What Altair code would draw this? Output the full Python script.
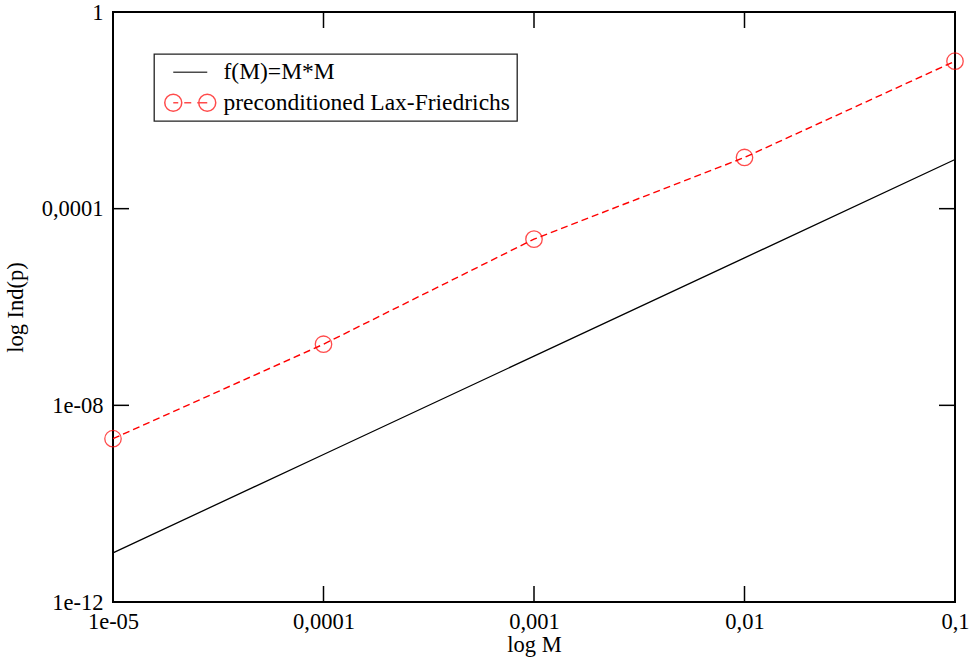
import altair as alt
import pandas as pd

# ---- data ----
M_values = [1e-5, 1e-4, 1e-3, 1e-2, 1e-1]
f_values = [1e-11, 1e-9, 1e-7, 1e-5, 1e-3]
lf_values = [2.1e-9, 1.75e-7, 2.4e-5, 1.1e-3, 0.1]
series_names = ["f(M)=M*M", "preconditioned Lax-Friedrichs"]
series_colors = ["#000000", "#ff0000"]

x_ticks = [1e-5, 1e-4, 1e-3, 1e-2, 1e-1]
x_tick_labels = ["1e-05", "0,0001", "0,001", "0,01", "0,1"]
y_ticks = [1e-12, 1e-8, 1e-4, 1.0]
y_tick_labels = ["1e-12", "1e-08", "0,0001", "1"]

W, H = 842, 590
FONT = "Liberation Serif"

rows = []
for m, v in zip(M_values, f_values):
    rows.append({"M": m, "value": v, "series": series_names[0]})
for m, v in zip(M_values, lf_values):
    rows.append({"M": m, "value": v, "series": series_names[1]})
df = pd.DataFrame(rows)
xt = pd.DataFrame({"v": x_ticks})
yt = pd.DataFrame({"v": y_ticks})

xscale = alt.Scale(type="log", domain=[1e-5, 0.1], nice=False)
yscale = alt.Scale(type="log", domain=[1e-12, 1], nice=False)
cscale = alt.Scale(domain=series_names, range=series_colors)


def label_expr(vals, labels):
    # nested conditional: pick label of nearest tick (log space)
    expr = "''"
    for v, lab in reversed(list(zip(vals, labels))):
        expr = f"(abs(log(datum.value) - log({v!r})) < 0.5 ? '{lab}' : {expr})"
    return expr


def circle_path(cx, r):
    k = 0.5523 * r
    f = lambda a: f"{a:.3f}"
    return (f"M{f(cx + r)},0"
            f"C{f(cx + r)},{f(k)} {f(cx + k)},{f(r)} {f(cx)},{f(r)}"
            f"C{f(cx - k)},{f(r)} {f(cx - r)},{f(k)} {f(cx - r)},0"
            f"C{f(cx - r)},{f(-k)} {f(cx - k)},{f(-r)} {f(cx)},{f(-r)}"
            f"C{f(cx + k)},{f(-r)} {f(cx + r)},{f(-k)} {f(cx + r)},0")


# legend glyphs (units of 10 px); zero-length ends give both glyphs equal extent
sym_line = "M-2.55,0L-2.55,0M-1.7,0L1.7,0M2.55,0L2.55,0"
sym_lf = (circle_path(-1.7, 0.85) + circle_path(1.7, 0.85)
          + "M-1.7,0L-1.2,0M-0.6,0L0.1,0M0.7,0L1.7,0")

X = alt.X("M:Q", scale=xscale,
          axis=alt.Axis(values=x_ticks, labelExpr=label_expr(x_ticks, x_tick_labels),
                        ticks=False, domain=False, grid=False, title="log M",
                        labelPadding=8, titleX=W / 2, titleY=49,
                        titleBaseline="alphabetic", titleAlign="center", labelFlush=False))
Y = alt.Y("value:Q", scale=yscale,
          axis=alt.Axis(values=y_ticks, labelExpr=label_expr(y_ticks, y_tick_labels),
                        ticks=False, domain=False, grid=False, title="log Ind(p)",
                        labelPadding=10, titleX=-91, titleY=H / 2,
                        titleBaseline="alphabetic", titleAlign="center", titleAngle=270,
                        labelFlush=False))

base = alt.Chart(df)

legend_layer = base.transform_filter("false").mark_point(
    size=400, filled=False, strokeWidth=1.5
).encode(
    x=X, y=Y,
    color=alt.Color("series:N", scale=cscale, legend=alt.Legend(title=None)),
    shape=alt.Shape("series:N", scale=alt.Scale(domain=series_names, range=[sym_line, sym_lf]),
                    legend=alt.Legend(title=None)),
)

line_f = base.transform_filter(alt.datum.series == series_names[0]).mark_line(
    strokeWidth=1.3
).encode(x=X, y=Y, color=alt.Color("series:N", scale=cscale))

line_lf = base.transform_filter(alt.datum.series == series_names[1]).mark_line(
    strokeWidth=1.4, strokeDash=[7, 4]
).encode(x=X, y=Y, color=alt.Color("series:N", scale=cscale))

points = base.transform_filter(alt.datum.series == series_names[1]).mark_point(
    shape="circle", size=270, strokeWidth=1.3, filled=False
).encode(x=X, y=Y, color=alt.Color("series:N", scale=cscale))

tick_style = dict(color="black", strokeWidth=1.5)
x_ticks_bottom = alt.Chart(xt).mark_rule(**tick_style).encode(
    x=alt.X("v:Q", scale=xscale), y=alt.value(H), y2=alt.value(H - 16))
x_ticks_top = alt.Chart(xt).mark_rule(**tick_style).encode(
    x=alt.X("v:Q", scale=xscale), y=alt.value(0), y2=alt.value(16))
y_ticks_left = alt.Chart(yt).mark_rule(**tick_style).encode(
    y=alt.Y("v:Q", scale=yscale), x=alt.value(0), x2=alt.value(16))
y_ticks_right = alt.Chart(yt).mark_rule(**tick_style).encode(
    y=alt.Y("v:Q", scale=yscale), x=alt.value(W - 16), x2=alt.value(W))

chart = alt.layer(
    legend_layer, line_f, line_lf, points,
    x_ticks_bottom, x_ticks_top, y_ticks_left, y_ticks_right,
).properties(
    width=W, height=H,
    autosize=alt.AutoSizeParams(type="none"),
    padding={"left": 113, "top": 12, "right": 16, "bottom": 61},
    background="white",
).configure_view(
    stroke="black", strokeWidth=2
).configure_axis(
    labelFont=FONT, labelFontSize=22.5, labelColor="black",
    titleFont=FONT, titleFontSize=22.5, titleFontWeight="normal", titleColor="black",
).configure_legend(
    orient="none", legendX=41, legendY=42,
    strokeColor="#222222", strokeWidth=1.3, fillColor="white",
    padding=6.5, rowPadding=5.5,
    symbolOffset=18, labelOffset=21.5, symbolSize=400, symbolStrokeWidth=1.5,
    labelFont=FONT, labelFontSize=23.5, labelColor="black", labelLimit=600,
)

chart.save("out.html", embed_options={"renderer": "svg", "actions": False})
